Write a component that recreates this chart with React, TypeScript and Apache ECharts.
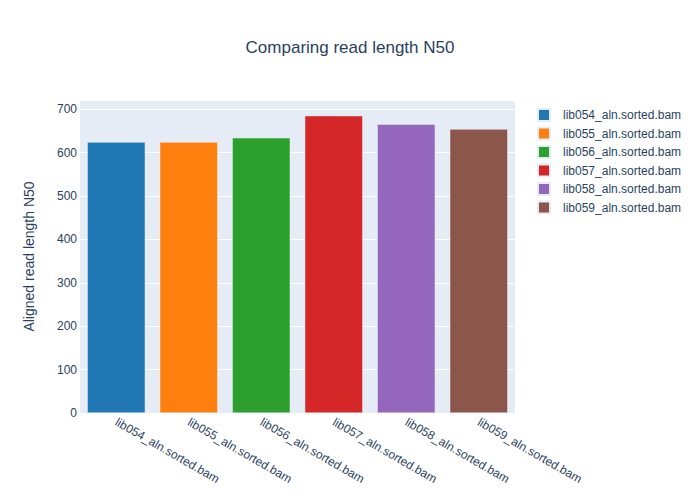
import React, { useEffect, useRef } from "react";
import * as echarts from "echarts";

const categories = [
  "lib054_aln.sorted.bam",
  "lib055_aln.sorted.bam",
  "lib056_aln.sorted.bam",
  "lib057_aln.sorted.bam",
  "lib058_aln.sorted.bam",
  "lib059_aln.sorted.bam",
];
const values = [624, 624, 634, 685, 665, 654];
const colors = ["#1f77b4", "#ff7f0e", "#2ca02c", "#d62728", "#9467bd", "#8c564b"];

const FONT = '"Liberation Sans", Arial, sans-serif';
const TXT = "#2a3f5f";

export default function App() {
  const ref = useRef<HTMLDivElement>(null);
  useEffect(() => {
    if (!ref.current) return;
    const chart = echarts.init(ref.current, null, { renderer: "svg" });
    const series = categories.map((name, i) => ({
      name,
      type: "bar",
      data: categories.map((_, j) => (j === i ? values[i] : null)),
      barWidth: "80%",
      barGap: "-100%",
      itemStyle: { color: colors[i], borderColor: "#E5ECF6", borderWidth: 0.5 },
    }));
    chart.setOption({
      animation: false,
      textStyle: { fontFamily: FONT },
      title: {
        text: "Comparing read length N50",
        left: "center",
        top: 34,
        textStyle: { fontFamily: FONT, fontSize: 17, fontWeight: "normal", color: TXT },
      },
      legend: {
        orient: "vertical",
        left: 532,
        top: 103,
        icon: "rect",
        itemWidth: 12,
        itemHeight: 12,
        itemGap: 4.5,
        textStyle: { fontFamily: FONT, fontSize: 12, color: TXT, padding: [0, 0, 0, 8] },
        data: categories,
      },
      grid: { left: 80, right: 185, top: 100, bottom: 87, backgroundColor: "#E5ECF6", show: true, borderWidth: 0 },
      xAxis: {
        type: "category",
        data: categories,
        axisLine: { show: false },
        axisTick: { show: false },
        axisLabel: { rotate: -30, color: TXT, fontSize: 12, fontFamily: FONT, margin: 8, interval: 0 },
      },
      yAxis: {
        type: "value",
        min: 0,
        max: 721,
        interval: 100,
        name: "Aligned read length N50",
        nameLocation: "middle",
        nameGap: 44,
        nameTextStyle: { fontFamily: FONT, fontSize: 14, color: TXT },
        axisLine: { show: false },
        axisTick: { show: false },
        axisLabel: { color: TXT, fontSize: 12, fontFamily: FONT, margin: 3, showMaxLabel: false },
        splitLine: { lineStyle: { color: "#ffffff", width: 1 } },
      },
      series,
    });
    return () => chart.dispose();
  }, []);
  return <div ref={ref} style={{ width: 700, height: 500, position: "absolute", left: 0, top: 0 }} />;
}
